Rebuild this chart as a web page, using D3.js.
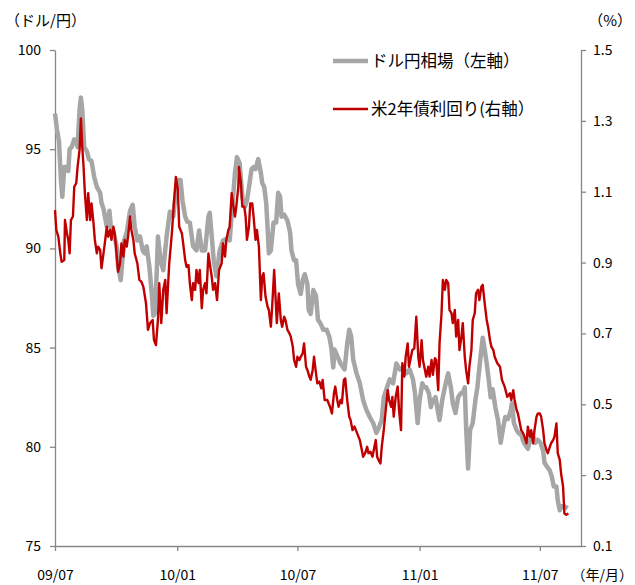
<!DOCTYPE html>
<html>
<head>
<meta charset="utf-8">
<script src="https://cdn.jsdelivr.net/npm/d3@7"></script>
<style>
  html, body { margin: 0; padding: 0; background: #fff; }
  svg text { font-family: "Noto Sans CJK JP", "Noto Sans", sans-serif; fill: #000; }
</style>
</head>
<body>
<svg id="chart" width="635" height="585"></svg>
<script>
// USD/JPY (left axis)
const usdjpyDates = [
  "2009-07-01","2009-07-04","2009-07-07","2009-07-10","2009-07-12","2009-07-15","2009-07-19","2009-07-21","2009-07-23","2009-07-26",
  "2009-07-30","2009-08-02","2009-08-04","2009-08-07","2009-08-09","2009-08-11","2009-08-14","2009-08-18","2009-08-21","2009-08-25",
  "2009-08-29","2009-09-02","2009-09-07","2009-09-09","2009-09-12","2009-09-17","2009-09-21","2009-09-23","2009-09-27","2009-10-02",
  "2009-10-04","2009-10-08","2009-10-13","2009-10-17","2009-10-22","2009-10-26","2009-10-29","2009-11-02","2009-11-06","2009-11-10",
  "2009-11-13","2009-11-16","2009-11-20","2009-11-24","2009-11-26","2009-11-28","2009-12-01","2009-12-03","2009-12-07","2009-12-11",
  "2009-12-16","2009-12-21","2009-12-26","2009-12-30","2010-01-03","2010-01-06","2010-01-09","2010-01-13","2010-01-16","2010-01-20",
  "2010-01-25","2010-01-30","2010-02-03","2010-02-07","2010-02-12","2010-02-17","2010-02-19","2010-02-22","2010-02-25","2010-03-01",
  "2010-03-06","2010-03-11","2010-03-17","2010-03-21","2010-03-25","2010-03-29","2010-04-01","2010-04-05","2010-04-09","2010-04-13",
  "2010-04-16","2010-04-20","2010-04-23","2010-04-26","2010-04-29","2010-05-03","2010-05-07","2010-05-09","2010-05-12","2010-05-15",
  "2010-05-17","2010-05-19","2010-05-22","2010-05-26","2010-05-30","2010-06-02","2010-06-05","2010-06-07","2010-06-11","2010-06-16",
  "2010-06-20","2010-06-22","2010-06-26","2010-06-29","2010-07-02","2010-07-06","2010-07-09","2010-07-12","2010-07-16","2010-07-18",
  "2010-07-21","2010-07-25","2010-07-29","2010-08-01","2010-08-05","2010-08-09","2010-08-14","2010-08-18","2010-08-21","2010-08-24",
  "2010-08-26","2010-08-31","2010-09-04","2010-09-08","2010-09-10","2010-09-14","2010-09-17","2010-09-20","2010-09-23","2010-09-28",
  "2010-10-03","2010-10-08","2010-10-13","2010-10-18","2010-10-23","2010-10-28","2010-11-01","2010-11-05","2010-11-08","2010-11-12",
  "2010-11-17","2010-11-22","2010-11-27","2010-12-02","2010-12-07","2010-12-12","2010-12-17","2010-12-22","2010-12-25","2010-12-29",
  "2011-01-01","2011-01-05","2011-01-08","2011-01-11","2011-01-15","2011-01-18","2011-01-21","2011-01-25","2011-01-29","2011-01-31",
  "2011-02-04","2011-02-08","2011-02-13","2011-02-17","2011-02-20","2011-02-24","2011-02-28","2011-03-04","2011-03-07","2011-03-10",
  "2011-03-12","2011-03-15","2011-03-18","2011-03-22","2011-03-26","2011-03-29","2011-04-01","2011-04-04","2011-04-06","2011-04-09",
  "2011-04-12","2011-04-15","2011-04-18","2011-04-21","2011-04-25","2011-04-29","2011-05-03","2011-05-07","2011-05-10","2011-05-14",
  "2011-05-18","2011-05-20","2011-05-23","2011-05-27","2011-05-30","2011-06-03","2011-06-07","2011-06-11","2011-06-13","2011-06-17",
  "2011-06-21","2011-06-24","2011-06-28","2011-07-02","2011-07-06","2011-07-08","2011-07-12","2011-07-16","2011-07-19","2011-07-22",
  "2011-07-26","2011-07-28","2011-07-31","2011-08-03","2011-08-07","2011-08-12"
];
const usdjpyValues = [
  96.8,96.0,95.4,93.4,92.6,94.1,94.1,93.9,95.0,95.1,
  95.5,95.4,95.1,97.0,97.6,97.0,95.1,94.9,94.5,94.4,
  93.6,93.1,92.8,92.3,92.0,91.1,91.9,91.1,90.8,90.1,
  89.1,88.4,90.4,90.8,91.9,92.2,91.1,90.4,90.6,89.9,
  89.75,90.1,89.1,87.6,86.6,86.7,88.6,90.6,89.4,88.9,
  90.6,91.85,91.6,92.8,93.45,93.45,92.4,91.6,91.35,91.3,
  90.1,89.9,90.9,89.9,89.9,91.6,91.8,90.6,89.4,88.6,
  89.9,90.4,90.5,90.4,92.1,93.8,94.6,94.3,92.6,92.1,
  92.4,93.3,94.0,94.1,94.0,94.5,93.8,93.3,93.1,92.3,
  91.1,89.75,89.9,91.3,91.3,92.8,92.6,91.6,91.7,91.4,
  90.8,89.9,89.4,89.4,88.2,87.7,88.4,88.7,88.2,86.9,
  86.7,87.9,87.6,86.4,86.2,85.9,85.9,85.55,85.0,84.0,
  84.9,84.5,84.2,84.0,83.9,85.2,85.9,85.55,84.4,83.7,
  83.2,82.35,81.85,81.5,81.2,80.7,81.0,81.35,82.5,82.9,
  83.4,83.2,84.2,83.9,84.0,83.7,83.9,83.4,82.7,81.2,
  82.35,83.2,83.0,83.0,82.7,82.0,82.35,82.5,81.7,81.35,
  82.35,83.0,83.7,83.0,82.2,81.7,82.5,82.7,82.7,83.0,
  81.0,78.9,80.85,81.2,82.35,83.0,84.0,84.9,85.5,84.9,
  84.2,83.4,82.5,82.9,82.0,81.35,80.2,81.0,81.5,81.4,
  81.8,82.2,81.2,80.85,80.7,80.6,80.2,80.0,79.9,80.4,
  80.5,80.2,80.35,80.2,79.8,79.2,79.0,78.8,78.5,78.0,
  78.0,77.3,76.8,77.0,77.0,76.9
];

// US 2-year Treasury yield, % (right axis)
const ust2yDates = [
  "2009-07-01","2009-07-03","2009-07-06","2009-07-09","2009-07-11","2009-07-15","2009-07-16","2009-07-19","2009-07-21","2009-07-23",
  "2009-07-25","2009-07-28","2009-07-30","2009-08-02","2009-08-04","2009-08-07","2009-08-09","2009-08-11","2009-08-13","2009-08-15",
  "2009-08-18","2009-08-20","2009-08-23","2009-08-25","2009-08-28","2009-08-30","2009-09-02","2009-09-04","2009-09-07","2009-09-09",
  "2009-09-12","2009-09-14","2009-09-17","2009-09-19","2009-09-22","2009-09-24","2009-09-27","2009-09-29","2009-10-02","2009-10-04",
  "2009-10-07","2009-10-09","2009-10-12","2009-10-14","2009-10-17","2009-10-19","2009-10-22","2009-10-24","2009-10-27","2009-10-29",
  "2009-11-02","2009-11-05","2009-11-08","2009-11-11","2009-11-15","2009-11-18","2009-11-21","2009-11-25","2009-11-27","2009-11-30",
  "2009-12-03","2009-12-05","2009-12-08","2009-12-11","2009-12-14","2009-12-16","2009-12-20","2009-12-24","2009-12-27","2009-12-30",
  "2010-01-02","2010-01-04","2010-01-08","2010-01-10","2010-01-13","2010-01-15","2010-01-18","2010-01-20","2010-01-23","2010-01-25",
  "2010-01-28","2010-01-30","2010-02-02","2010-02-04","2010-02-07","2010-02-09","2010-02-12","2010-02-14","2010-02-17","2010-02-19",
  "2010-02-22","2010-02-24","2010-02-27","2010-03-02","2010-03-05","2010-03-09","2010-03-11","2010-03-14","2010-03-16","2010-03-19",
  "2010-03-21","2010-03-24","2010-03-26","2010-03-29","2010-03-31","2010-04-03","2010-04-04","2010-04-07","2010-04-09","2010-04-12",
  "2010-04-14","2010-04-16","2010-04-19","2010-04-21","2010-04-24","2010-04-26","2010-04-29","2010-05-01","2010-05-04","2010-05-07",
  "2010-05-09","2010-05-11","2010-05-14","2010-05-17","2010-05-19","2010-05-22","2010-05-24","2010-05-27","2010-05-29","2010-05-31",
  "2010-06-03","2010-06-06","2010-06-08","2010-06-11","2010-06-13","2010-06-16","2010-06-19","2010-06-21","2010-06-24","2010-06-26",
  "2010-06-29","2010-07-01","2010-07-04","2010-07-06","2010-07-09","2010-07-11","2010-07-14","2010-07-16","2010-07-19","2010-07-21",
  "2010-07-24","2010-07-26","2010-07-29","2010-07-31","2010-08-03","2010-08-06","2010-08-08","2010-08-11","2010-08-15","2010-08-19",
  "2010-08-22","2010-08-25","2010-08-27","2010-08-30","2010-09-01","2010-09-04","2010-09-06","2010-09-09","2010-09-11","2010-09-14",
  "2010-09-17","2010-09-19","2010-09-22","2010-09-25","2010-09-29","2010-10-03","2010-10-05","2010-10-08","2010-10-11","2010-10-14",
  "2010-10-16","2010-10-19","2010-10-22","2010-10-24","2010-10-27","2010-10-29","2010-10-31","2010-11-03","2010-11-05","2010-11-08",
  "2010-11-11","2010-11-14","2010-11-16","2010-11-19","2010-11-21","2010-11-23","2010-11-26","2010-11-29","2010-12-01","2010-12-04",
  "2010-12-06","2010-12-09","2010-12-11","2010-12-14","2010-12-16","2010-12-19","2010-12-21","2010-12-24","2010-12-27","2010-12-30",
  "2011-01-01","2011-01-04","2011-01-06","2011-01-09","2011-01-11","2011-01-14","2011-01-16","2011-01-19","2011-01-21","2011-01-24",
  "2011-01-26","2011-01-29","2011-01-31","2011-02-03","2011-02-05","2011-02-08","2011-02-10","2011-02-13","2011-02-15","2011-02-18",
  "2011-02-20","2011-02-23","2011-02-25","2011-02-28","2011-03-02","2011-03-05","2011-03-07","2011-03-10","2011-03-12","2011-03-15",
  "2011-03-17","2011-03-20","2011-03-22","2011-03-25","2011-03-27","2011-03-30","2011-04-01","2011-04-04","2011-04-06","2011-04-09",
  "2011-04-12","2011-04-14","2011-04-17","2011-04-19","2011-04-22","2011-04-24","2011-04-28","2011-05-02","2011-05-05","2011-05-09",
  "2011-05-13","2011-05-17","2011-05-19","2011-05-22","2011-05-24","2011-05-27","2011-05-29","2011-06-01","2011-06-03","2011-06-06",
  "2011-06-08","2011-06-11","2011-06-13","2011-06-16","2011-06-18","2011-06-21","2011-06-23","2011-06-26","2011-06-28","2011-07-01",
  "2011-07-03","2011-07-06","2011-07-08","2011-07-11","2011-07-13","2011-07-16","2011-07-18","2011-07-21","2011-07-23","2011-07-26",
  "2011-07-28","2011-07-31","2011-08-02","2011-08-05","2011-08-07","2011-08-10","2011-08-13"
];
const ust2yValues = [
  1.048,0.992,0.973,0.926,0.902,0.907,1.02,0.983,0.964,0.926,
  1.02,1.03,1.114,1.124,1.17,1.218,1.307,1.227,1.17,1.096,
  1.02,1.096,1.02,1.067,1.011,0.964,0.926,0.945,0.935,0.884,
  0.926,0.954,1.001,0.973,0.992,0.964,1.001,0.983,0.917,0.874,
  0.898,0.954,0.917,0.964,0.945,0.973,1.03,0.992,0.964,0.926,
  0.898,0.851,0.846,0.832,0.785,0.71,0.729,0.738,0.682,0.667,
  0.738,0.842,0.729,0.823,0.851,0.757,0.898,0.983,1.067,1.142,
  1.105,1.001,0.983,0.954,0.907,0.888,0.893,0.842,0.794,0.842,
  0.823,0.879,0.842,0.879,0.771,0.823,0.842,0.813,0.926,0.898,
  0.86,0.823,0.842,0.794,0.879,0.898,0.954,0.917,0.964,0.992,
  1.0,1.096,1.067,1.03,1.058,1.114,1.17,1.124,1.058,1.058,
  1.03,0.964,1.001,1.067,1.067,1.03,0.964,0.992,0.945,0.794,
  0.86,0.87,0.804,0.776,0.766,0.719,0.776,0.879,0.804,0.729,
  0.813,0.738,0.719,0.747,0.738,0.71,0.7,0.691,0.663,0.625,
  0.606,0.634,0.625,0.634,0.644,0.672,0.606,0.597,0.578,0.569,
  0.597,0.634,0.587,0.559,0.564,0.545,0.569,0.512,0.512,0.493,
  0.474,0.531,0.55,0.512,0.493,0.512,0.503,0.569,0.573,0.512,
  0.465,0.456,0.427,0.437,0.418,0.399,0.38,0.352,0.362,0.38,
  0.362,0.366,0.352,0.371,0.399,0.352,0.343,0.333,0.38,0.427,
  0.484,0.54,0.512,0.493,0.521,0.465,0.521,0.55,0.484,0.427,
  0.616,0.578,0.634,0.672,0.606,0.634,0.653,0.658,0.747,0.634,
  0.606,0.681,0.625,0.597,0.578,0.606,0.578,0.625,0.583,0.63,
  0.625,0.54,0.672,0.757,0.851,0.823,0.851,0.842,0.766,0.757,
  0.729,0.766,0.691,0.738,0.653,0.691,0.729,0.634,0.597,0.559,
  0.606,0.653,0.738,0.757,0.813,0.823,0.794,0.832,0.837,0.785,
  0.738,0.719,0.681,0.663,0.653,0.634,0.616,0.606,0.569,0.55,
  0.521,0.531,0.512,0.54,0.512,0.484,0.474,0.446,0.427,0.418,
  0.408,0.39,0.437,0.408,0.427,0.39,0.427,0.465,0.474,0.474,
  0.465,0.427,0.39,0.371,0.362,0.38,0.39,0.399,0.408,0.446,
  0.362,0.343,0.305,0.268,0.192,0.188,0.192
];

// Axis definitions
const xDomain = ["2009-07-01", "2011-09-01"];
const xTickDates = ["2009-07-01", "2010-01-01", "2010-07-01", "2011-01-01", "2011-07-01"];
const xTickLabels = ["09/07", "10/01", "10/07", "11/01", "11/07"];
const leftTicks = [75, 80, 85, 90, 95, 100];
const rightTicks = [0.1, 0.3, 0.5, 0.7, 0.9, 1.1, 1.3, 1.5];
const seriesNames = ["ドル円相場（左軸）", "米2年債利回り(右軸）"];
const seriesColors = ["#a6a6a6", "#c00000"];

const parse = d3.timeParse("%Y-%m-%d");
const svg = d3.select("#chart");
const plot = { left: 55, right: 581, top: 50, bottom: 546 };
const axisColor = "#868686";

const x = d3.scaleTime().domain(xDomain.map(parse)).range([plot.left, plot.right]);
const yL = d3.scaleLinear().domain([75, 100]).range([plot.bottom, plot.top]);
const yR = d3.scaleLinear().domain([0.1, 1.5]).range([plot.bottom, plot.top]);

// Axes
const styleAxis = g => {
  g.select(".domain").attr("stroke", axisColor).attr("stroke-width", 1.3);
  g.selectAll(".tick line").attr("stroke", axisColor).attr("stroke-width", 1.3);
  g.selectAll(".tick text").attr("font-size", 14).attr("fill", "#000");
};

svg.append("g")
  .attr("transform", `translate(${plot.left},0)`)
  .call(d3.axisLeft(yL).tickValues(leftTicks).tickSize(5).tickSizeOuter(0).tickPadding(9).tickFormat(d3.format("d")))
  .call(styleAxis);

svg.append("g")
  .attr("transform", `translate(${plot.right},0)`)
  .call(d3.axisRight(yR).tickValues(rightTicks).tickSize(5).tickSizeOuter(0).tickPadding(7).tickFormat(d3.format(".1f")))
  .call(styleAxis);

svg.append("g")
  .attr("transform", `translate(0,${plot.bottom})`)
  .call(d3.axisBottom(x).tickValues(xTickDates.map(parse)).tickSize(5).tickSizeOuter(0)
    .tickPadding(19).tickFormat((d, i) => xTickLabels[i]))
  .call(styleAxis);

// Unit labels
svg.append("text").attr("x", 5).attr("y", 26).attr("font-size", 15).text("（ドル/円）");
svg.append("text").attr("x", 632).attr("y", 26).attr("font-size", 15).attr("text-anchor", "end").text("（%）");
svg.append("text").attr("x", 633).attr("y", 580).attr("font-size", 14).attr("text-anchor", "end").text("（年/月）");

// Lines
const gray = usdjpyDates.map((d, i) => ({ date: parse(d), v: usdjpyValues[i] }));
const red = ust2yDates.map((d, i) => ({ date: parse(d), v: ust2yValues[i] }));

svg.append("path")
  .datum(gray)
  .attr("fill", "none")
  .attr("stroke", seriesColors[0])
  .attr("stroke-width", 4.5)
  .attr("stroke-linejoin", "round")
  .attr("d", d3.line().x(d => x(d.date)).y(d => yL(d.v)));

svg.append("path")
  .datum(red)
  .attr("fill", "none")
  .attr("stroke", seriesColors[1])
  .attr("stroke-width", 2.4)
  .attr("stroke-linejoin", "round")
  .attr("d", d3.line().x(d => x(d.date)).y(d => yR(d.v)));

// Legend
const legend = svg.append("g");
[[61, 4.5], [109, 2.4]].forEach(([ly, w], i) => {
  legend.append("line").attr("x1", 333).attr("x2", 368).attr("y1", ly).attr("y2", ly)
    .attr("stroke", seriesColors[i]).attr("stroke-width", w);
  legend.append("text").attr("x", 371).attr("y", ly + 6).attr("font-size", 16.5).text(seriesNames[i]);
});
</script>
</body>
</html>
